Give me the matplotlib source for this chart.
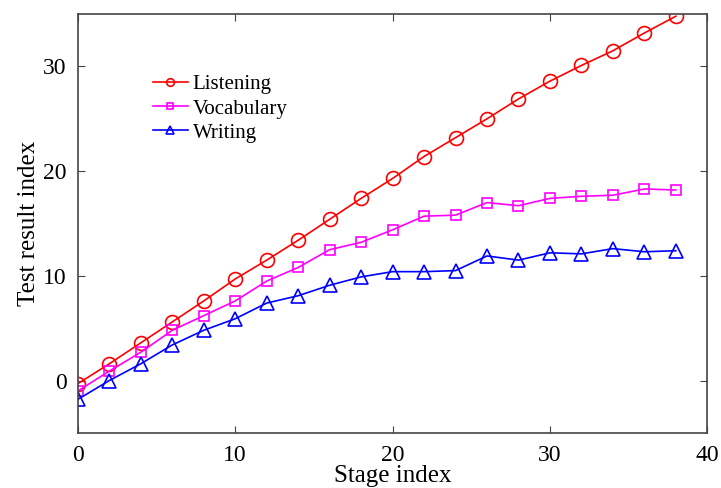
import numpy as np
import matplotlib.pyplot as plt

plt.rcParams['font.family'] = ['Liberation Serif', 'DejaVu Serif']

# stage index (every 2nd stage)
stage = list(range(0, 40, 2))

# test result index for each skill
listening = [-0.3, 1.6, 3.6, 5.6, 7.6, 9.7, 11.5, 13.4, 15.4, 17.4,
             19.3, 21.4, 23.2, 25.0, 26.9, 28.6, 30.1, 31.5, 33.2, 34.8]
vocabulary = [-1.0, 0.9, 2.7, 4.8, 6.2, 7.6, 9.5, 10.8, 12.5, 13.2,
              14.4, 15.7, 15.8, 17.0, 16.7, 17.4, 17.6, 17.7, 18.3, 18.2]
writing = [-1.8, 0.0, 1.6, 3.4, 4.8, 5.9, 7.4, 8.1, 9.1, 9.9,
           10.4, 10.4, 10.5, 11.9, 11.5, 12.2, 12.1, 12.6, 12.3, 12.4]

fig = plt.figure(figsize=(7.21, 4.88), dpi=100)
ax = fig.add_axes([0.108, 0.113, 0.873, 0.858])

ax.plot(stage, listening, '-o', color='red', mfc='none', ms=10, mew=1.2,
        lw=1.2, label='Listening')
ax.plot(stage, vocabulary, '-s', color='magenta', mfc='none', ms=7.5, mew=1.2,
        lw=1.2, label='Vocabulary')
ax.plot(stage, writing, '-^', color='blue', mfc='none', ms=10, mew=1.2,
        lw=1.2, label='Writing')

ax.set_xlim(0, 40)
ax.set_ylim(-5, 35)
ax.set_xticks([0, 10, 20, 30, 40])
ax.set_yticks([0, 10, 20, 30])
ax.tick_params(direction='in', top=True, right=True, length=5,
               labelsize=17, color='#444444')
ax.tick_params(axis='x', pad=9)
ax.tick_params(axis='y', pad=8)
for s in ax.spines.values():
    s.set_color('#444444')
    s.set_linewidth(1.2)

ax.set_xlabel('Stage index', fontsize=18, labelpad=-1)
ax.set_ylabel('Test result index', fontsize=18, labelpad=2)

leg = ax.legend(loc='upper left', bbox_to_anchor=(0.09, 0.9), frameon=False,
                fontsize=15, markerscale=0.55, handlelength=1.65,
                handletextpad=0.25, labelspacing=0.22)

fig.savefig('out.png', dpi=100)
